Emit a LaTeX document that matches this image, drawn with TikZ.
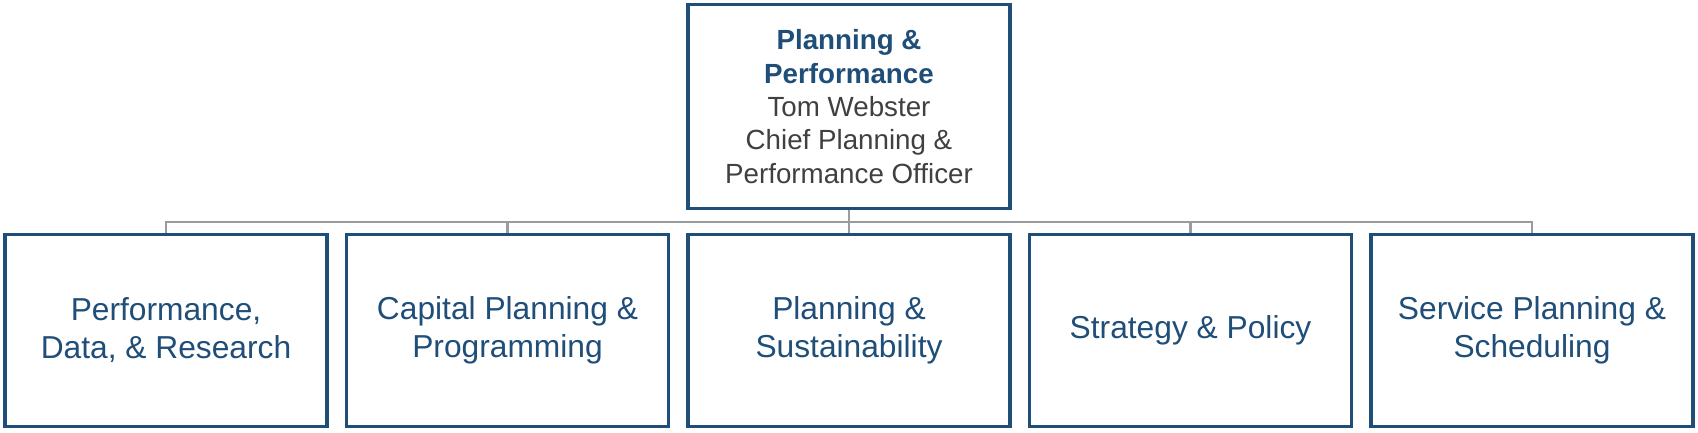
\documentclass[tikz,border=0pt]{standalone}
\usepackage{fontspec}
\setmainfont{Liberation Sans}
\usepackage{xcolor}
\usetikzlibrary{calc}

\definecolor{boxblue}{HTML}{1F4E79}
\definecolor{linkgray}{HTML}{989C9C}
\definecolor{namegray}{HTML}{404040}

\tikzset{
	unitbox/.style = {draw = boxblue, line width = 2.5pt, fill = white,
		minimum width = 241.3pt, minimum height = 143.8pt,
		align = center, text = boxblue, inner sep = 0pt,
		font = \fontsize{23.8pt}{28.5pt}\selectfont},
	headbox/.style = {unitbox, minimum height = 152.8pt,
		font = \fontsize{20.8pt}{25pt}\selectfont},
	link/.style = {draw = linkgray, line width = 1.9pt}
}

\begin{document}
\begin{tikzpicture}[x = 0.75pt, y = -0.75pt]
		\def\P{341.5};
		\def\C{849};
		\def\Y{330.5};
		
		\useasboundingbox (0,0) rectangle (1698,432);
		
		\coordinate (bus) at (0,222);
		
		\node [headbox] (ppo) at (\C,106.5)
			{\textbf{Planning \&}\\ \textbf{Performance}\\
			 \textcolor{namegray}{Tom Webster}\\
			 \textcolor{namegray}{Chief Planning \&}\\
			 \textcolor{namegray}{Performance Officer}};
		
		\node [unitbox] (pdr)  at (\C-2*\P,\Y) {Performance,\\ Data, \& Research};
		\node [unitbox] (cpp)  at (\C-\P,\Y)   {Capital Planning \&\\ Programming};
		\node [unitbox] (pps)  at (\C,\Y)      {Planning \&\\ Sustainability};
		\node [unitbox] (spol) at (\C+\P,\Y)   {Strategy \& Policy};
		\node [unitbox] (sps)  at (\C+2*\P,\Y) {Service Planning \&\\ Scheduling};
		
		\draw [link] (ppo.south) -- (pps.north);
		\draw [link] (pdr.north) -- (pdr.north |- bus) -- (sps.north |- bus) -- (sps.north);
		\draw [link] (cpp.north) -- (cpp.north |- bus);
		\draw [link] (spol.north) -- (spol.north |- bus);
	\end{tikzpicture}
\end{document}
